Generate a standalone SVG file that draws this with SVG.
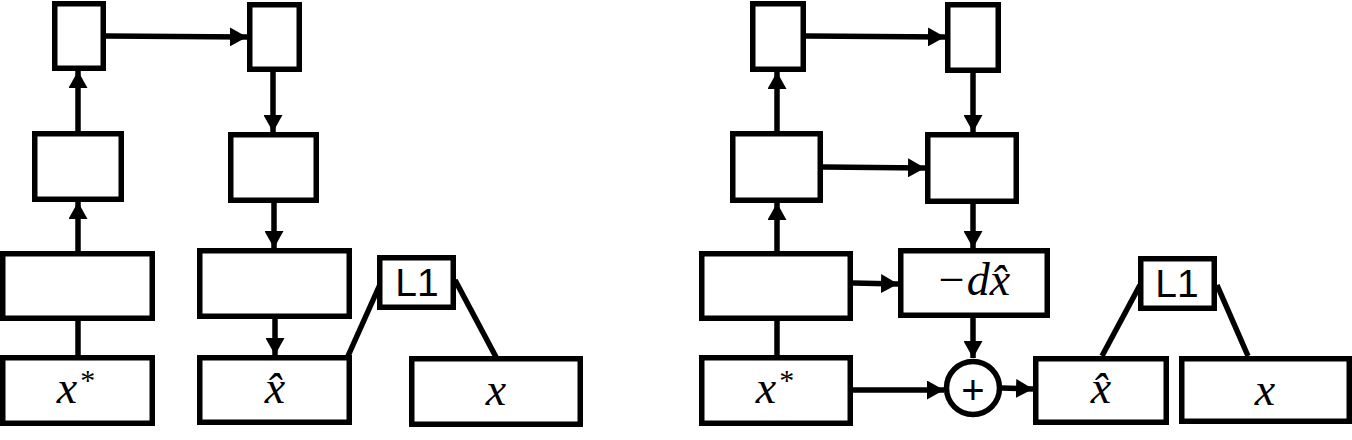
<svg xmlns="http://www.w3.org/2000/svg" width="1352" height="440" viewBox="0 0 1352 440">
<defs>
<style>
.b{fill:#fff;stroke:#000;stroke-width:5.5}
.c line{stroke:#000;stroke-width:5.5}
.a{marker-end:url(#ah)}
.m{font-family:"Liberation Serif","DejaVu Serif",serif;font-style:italic;font-size:46px;text-anchor:middle;fill:#000}
.s{font-family:"Liberation Sans","DejaVu Sans",sans-serif;font-size:39px;text-anchor:middle;fill:#000}
.sup{font-style:normal;font-size:30px}
</style>
<marker id="ah" markerUnits="userSpaceOnUse" markerWidth="17" markerHeight="19" refX="17" refY="9.5" orient="auto"><path d="M0,0 L17,9.5 L0,19 z" fill="#000"/></marker>
</defs>
<rect width="1352" height="440" fill="#fff"/>
<g class="c" id="connectors">
<line class="a" x1="106" y1="36" x2="247" y2="37"/>
<line class="a" x1="78" y1="131" x2="78" y2="71"/>
<line class="a" x1="78" y1="251" x2="78" y2="202"/>
<line x1="78" y1="321" x2="78" y2="355"/>
<line class="a" x1="273" y1="72" x2="273" y2="132"/>
<line class="a" x1="274" y1="203" x2="274" y2="248"/>
<line class="a" x1="275" y1="319" x2="275" y2="355"/>
<line x1="348" y1="356" x2="382" y2="280"/>
<line x1="455" y1="280" x2="496" y2="357"/>
<line class="a" x1="806" y1="36" x2="945" y2="37"/>
<line class="a" x1="777" y1="131" x2="777" y2="72"/>
<line class="a" x1="777" y1="251" x2="777" y2="203"/>
<line x1="777" y1="321" x2="777" y2="355"/>
<line class="a" x1="973" y1="73" x2="973" y2="132"/>
<line class="a" x1="973" y1="204" x2="973" y2="248"/>
<line class="a" x1="823" y1="167" x2="925" y2="168"/>
<line class="a" x1="853" y1="283" x2="898" y2="284"/>
<line class="a" x1="973" y1="318" x2="973" y2="358"/>
<line class="a" x1="853" y1="390" x2="944" y2="390"/>
<line class="a" x1="1002" y1="388" x2="1033" y2="389"/>
<line x1="1102" y1="356" x2="1140" y2="285"/>
<line x1="1217" y1="285" x2="1248" y2="356"/>
</g>
<g id="L-r1L"><rect class="b" x="54.75" y="3.75" width="48.5" height="64.5"/></g>
<g id="L-r1R"><rect class="b" x="249.75" y="4.75" width="49.5" height="64.5"/></g>
<g id="L-r2L"><rect class="b" x="34.75" y="133.75" width="86.5" height="65.5"/></g>
<g id="L-r2R"><rect class="b" x="230.75" y="134.75" width="85.5" height="65.5"/></g>
<g id="L-r3L"><rect class="b" x="2.75" y="253.75" width="149.5" height="64.5"/></g>
<g id="L-r3R"><rect class="b" x="199.75" y="250.75" width="149.5" height="65.5"/></g>
<g id="L-xstar"><rect class="b" x="2.75" y="357.75" width="149.5" height="65.5"/><text class="m" x="76" y="403">x<tspan class="sup" dx="3" dy="-13">*</tspan></text></g>
<g id="L-xhat"><rect class="b" x="199.75" y="357.75" width="149.5" height="64.5"/><text class="m" x="275" y="403">x̂</text></g>
<g id="L-L1"><rect class="b" x="379.75" y="257.75" width="73.5" height="49.5"/><text class="s" x="417" y="296">L1</text></g>
<g id="L-x"><rect class="b" x="411.75" y="358.75" width="168.5" height="65.5"/><text class="m" x="496" y="405">x</text></g>
<g id="R-r1L"><rect class="b" x="752.75" y="3.75" width="50.5" height="65.5"/></g>
<g id="R-r1R"><rect class="b" x="947.75" y="4.75" width="50.5" height="65.5"/></g>
<g id="R-r2L"><rect class="b" x="732.75" y="133.75" width="87.5" height="66.5"/></g>
<g id="R-r2R"><rect class="b" x="927.75" y="134.75" width="88.5" height="66.5"/></g>
<g id="R-r3L"><rect class="b" x="701.75" y="253.75" width="148.5" height="64.5"/></g>
<g id="R-dx"><rect class="b" x="900.75" y="250.75" width="146.5" height="64.5"/><text class="m" x="973" y="295">−dx̂</text></g>
<g id="R-xstar"><rect class="b" x="701.75" y="357.75" width="148.5" height="65.5"/><text class="m" x="775" y="403">x<tspan class="sup" dx="3" dy="-13">*</tspan></text></g>
<g id="R-plus"><circle class="b" cx="973" cy="388" r="26.5"/><text class="s" x="973" y="404" style="font-size:40px">+</text></g>
<g id="R-xhat"><rect class="b" x="1035.75" y="358.75" width="130.5" height="63.5"/><text class="m" x="1101" y="403">x̂</text></g>
<g id="R-L1"><rect class="b" x="1140.75" y="258.75" width="73.5" height="49.5"/><text class="s" x="1177" y="297">L1</text></g>
<g id="R-x"><rect class="b" x="1181.75" y="358.75" width="167.5" height="62.5"/><text class="m" x="1265" y="405">x</text></g>
</svg>
